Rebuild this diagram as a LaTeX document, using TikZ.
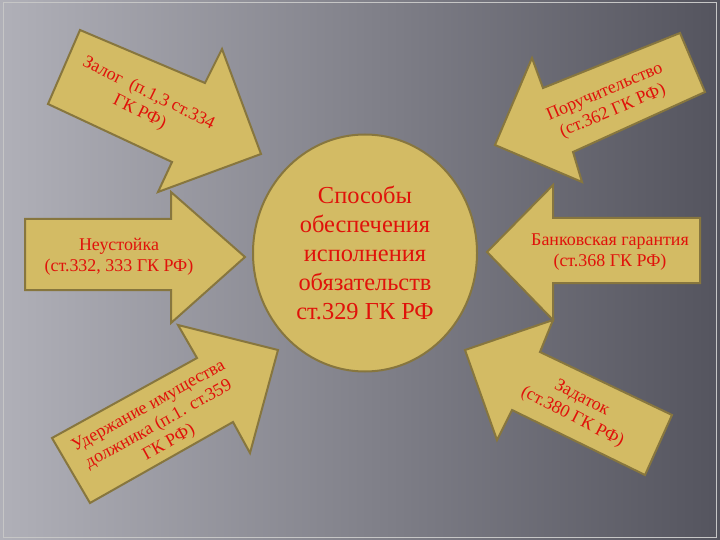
\documentclass[tikz,border=0pt]{standalone}
\usepackage{fontspec}
\setmainfont{Liberation Serif}
\usetikzlibrary{shapes.geometric}

\definecolor{khaki}{RGB}{211,187,100}
\definecolor{oliveedge}{RGB}{135,118,62}
\definecolor{redtxt}{RGB}{224,18,10}
\definecolor{bglight}{RGB}{176,176,184}
\definecolor{bgmid}{RGB}{108,108,117}
\definecolor{bgdark}{RGB}{84,84,94}

\begin{document}
\begin{tikzpicture}[x=1bp,y=-1bp,
	pointer/.style={fill=khaki,draw=oliveedge,line width=2bp,line join=miter},
	lbl/.style={text=redtxt,font=\fontsize{18}{21}\selectfont,align=center,inner sep=0pt}]
		%background
		\shade[left color=bglight,middle color=bgmid,right color=bgdark] (0,0) rectangle (720,540);
		\useasboundingbox (0,0) rectangle (720,540);
		\draw[gray!45,line width=1bp] (3,3) rectangle (716,537);
		
		%centre
		\node[ellipse,fill=khaki,draw=oliveedge,line width=2bp,minimum width=224bp,minimum height=237bp,
			text=redtxt,font=\fontsize{24.5}{29}\selectfont,align=center,inner sep=0pt] (sposoby) at (365,253)
			{Способы\\обеспечения\\исполнения\\обязательств\\ст.329 ГК РФ};
		
		%left side
		\filldraw[pointer] (80,30) -- (205,83) -- (222,49) -- (261,154) -- (158,192) -- (172,162) -- (48,104) -- cycle;
		\node[lbl,rotate=-26] (zalog) at (144,103) {Залог\ \ (п.1,3 ст.334\\ГК РФ)};
		
		\filldraw[pointer] (25,219) -- (171,219) -- (171,192) -- (245,257) -- (171,323) -- (171,290) -- (25,290) -- cycle;
		\node[lbl] (neustojka) at (119,257) {Неустойка\\(ст.332, 333 ГК РФ)};
		
		\filldraw[pointer] (52,438) -- (197,358) -- (178,325) -- (278,350) -- (250,453) -- (233,422) -- (90,503) -- cycle;
		\node[lbl,rotate=29] (uderzhanie) at (159,425) {Удержание имущества\\должника (п.1. ст.359\\ГК РФ)};
		
		%right side
		\filldraw[pointer] (680,33) -- (705,92) -- (573,152) -- (582,182) -- (495,145) -- (532,58) -- (543,88) -- cycle;
		\node[lbl,rotate=23] (poruchitelstvo) at (609,102) {Поручительство\\(ст.362 ГК РФ)};
		
		\filldraw[pointer] (700,218) -- (700,283) -- (553,283) -- (553,320) -- (487,252) -- (553,185) -- (553,218) -- cycle;
		\node[lbl] (garantija) at (610,252) {Банковская гарантия\\(ст.368 ГК РФ)};
		
		\filldraw[pointer] (672,415) -- (645,475) -- (512,410) -- (497,440) -- (465,350) -- (553,320) -- (540,352) -- cycle;
		\node[lbl,rotate=-27] (zadatok) at (577,408) {Задаток\\(ст.380 ГК РФ)};
		
\end{tikzpicture}
\end{document}
